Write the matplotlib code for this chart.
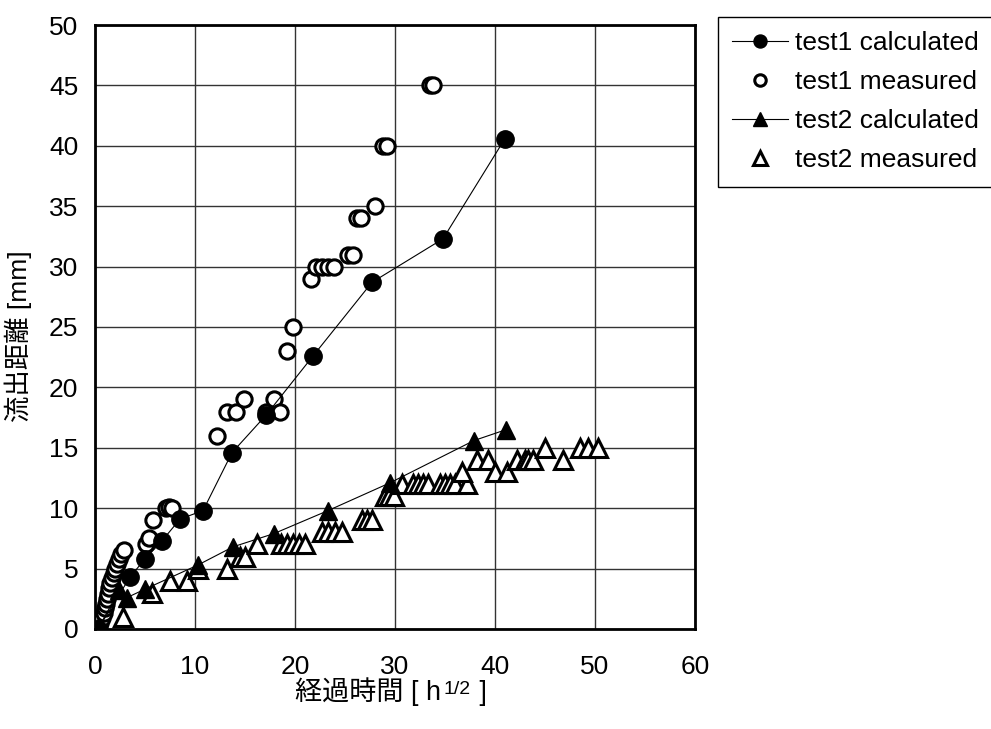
import matplotlib
matplotlib.use('Agg')
import matplotlib.pyplot as plt

plt.rcParams['font.family'] = ['Liberation Sans', 'Noto Sans CJK JP', 'DejaVu Sans']

# test1 calculated
t1c_x = [0.3, 3.5, 5.0, 6.7, 8.5, 10.8, 13.7, 17.1, 21.8, 27.7, 34.8, 41.0]
t1c_y = [0.0, 4.3, 5.8, 7.3, 9.1, 9.8, 14.6, 17.7, 22.6, 28.7, 32.3, 40.6]

# test1 measured
t1m_x = [0.37, 0.53, 0.7, 0.87, 0.97, 1.1, 1.2, 1.3, 1.43, 1.53, 1.7, 1.87, 2.03, 2.2,
         2.43, 2.63, 2.87, 5.1, 5.4, 5.8, 7.1, 7.4, 7.7, 12.2, 13.2, 14.1, 14.9,
         17.1, 17.9, 18.5, 19.2, 19.8, 21.6, 22.1, 22.7, 23.3, 23.9, 25.3, 25.8,
         26.2, 26.6, 28.0, 28.8, 29.2, 33.5, 33.8]
t1m_y = [0.0, 0.5, 0.9, 1.3, 1.7, 2.1, 2.5, 2.9, 3.4, 3.8, 4.2, 4.6, 5.0, 5.4,
         5.8, 6.2, 6.5, 7.0, 7.5, 9.0, 10.0, 10.1, 10.0, 16.0, 18.0, 18.0, 19.0,
         18.0, 19.0, 18.0, 23.0, 25.0, 29.0, 30.0, 30.0, 30.0, 30.0, 31.0, 31.0,
         34.0, 34.0, 35.0, 40.0, 40.0, 45.0, 45.0]

# test2 calculated
t2c_x = [0.3, 2.4, 3.2, 5.0, 10.3, 13.8, 17.9, 23.3, 29.5, 37.9, 41.1]
t2c_y = [0.0, 3.2, 2.6, 3.3, 5.3, 6.8, 7.9, 9.8, 12.1, 15.6, 16.5]

# test2 measured
t2m_x = [0.3, 2.8, 5.7, 7.5, 9.2, 10.3, 13.2, 14.5, 15.0, 16.2, 18.6, 19.2, 19.8,
         20.4, 21.0, 22.7, 23.3, 24.0, 24.7, 26.7, 27.2, 27.7, 29.0, 29.4, 29.9,
         30.7, 31.8, 32.3, 32.8, 33.3, 34.5, 35.0, 35.5, 36.0, 37.2, 36.7, 38.2,
         39.3, 40.0, 41.2, 42.2, 43.0, 43.3, 43.8, 45.0, 46.8, 48.5, 49.3, 50.3]
t2m_y = [0, 1, 3, 4, 4, 5, 5, 6, 6, 7, 7, 7, 7,
         7, 7, 8, 8, 8, 8, 9, 9, 9, 11, 11, 11,
         12, 12, 12, 12, 12, 12, 12, 12, 12, 12, 13, 14,
         14, 13, 13, 14, 14, 14, 14, 15, 14, 15, 15, 15]

fig = plt.figure(figsize=(9.91, 7.29), dpi=100)
ax = fig.add_axes([0.0959, 0.1372, 0.6054, 0.8285])

ax.plot(t1m_x, t1m_y, 'o', ms=11, mfc='white', mec='black', mew=2.2,
        label='test1 measured', zorder=3)
ax.plot(t2m_x, t2m_y, '^', ms=12.5, mfc='white', mec='black', mew=2.2,
        label='test2 measured', zorder=3)
ax.plot(t1c_x, t1c_y, '-o', color='black', lw=0.8, ms=12.5,
        label='test1 calculated', zorder=4)
ax.plot(t2c_x, t2c_y, '-^', color='black', lw=0.8, ms=13,
        label='test2 calculated', zorder=4)

ax.set_xlim(0, 60)
ax.set_ylim(0, 50)
ax.set_xticks(range(0, 61, 10))
ax.set_yticks(range(0, 51, 5))
ax.grid(True, color='#333333', lw=1)
ax.set_axisbelow(True)
for s in ax.spines.values():
    s.set_linewidth(2)
ax.tick_params(labelsize=19, length=0)
ax.tick_params(axis='x', pad=19)
ax.tick_params(axis='y', pad=12)

ax.set_ylabel('流出距離 [mm]', fontsize=19)
ax.yaxis.set_label_coords(-0.105, 0.485)

# x label with superscript, built from pieces
fs = 19.5
t1 = fig.text(295 / 991, 1 - 700 / 729, '経過時間 [ h', fontsize=fs,
              ha='left', va='baseline')
sup = ax.annotate('1/2', xy=(1, 0), xycoords=t1, xytext=(1.5, 9),
                  textcoords='offset points', fontsize=14,
                  ha='left', va='baseline', annotation_clip=False)
ax.annotate(' ]', xy=(1, 0), xycoords=(sup, t1), xytext=(1, 0),
            textcoords='offset points', fontsize=fs,
            ha='left', va='bottom', annotation_clip=False)

h, l = ax.get_legend_handles_labels()
order = [2, 0, 3, 1]
leg = fig.legend([h[i] for i in order], [l[i] for i in order],
                 loc='upper left', bbox_to_anchor=(0.7245, 0.977),
                 fontsize=19, markerscale=0.75, handlelength=2.1,
                 fancybox=False, edgecolor='black', framealpha=1,
                 borderpad=0.55, labelspacing=0.57, handletextpad=0.25,
                 borderaxespad=0)
leg.get_frame().set_linewidth(1)

fig.savefig('out.png', dpi=100)
